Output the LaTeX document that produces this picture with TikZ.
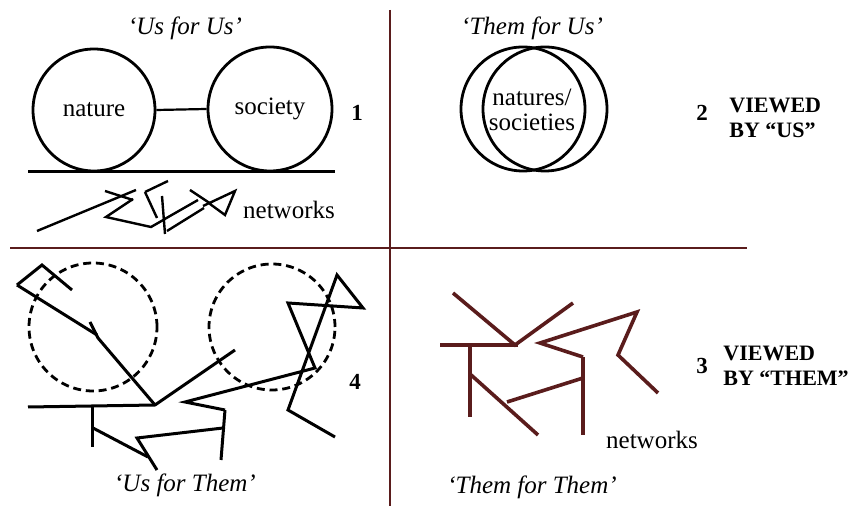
\documentclass[tikz,border=0pt]{standalone}
\usepackage{fontspec}
\setmainfont{Liberation Serif}
\definecolor{maroon}{HTML}{5A1C1C}
\tikzset{
  lbl/.style={font=\fontsize{12.5}{12.5}\selectfont, inner sep=0pt, align=center},
  ttl/.style={font=\fontsize{12.5}{14}\selectfont\itshape, inner sep=0pt},
  boldlbl/.style={font=\fontsize{11}{12.5}\selectfont\bfseries, inner sep=0pt, align=left},
  num/.style={font=\fontsize{11.5}{13}\selectfont\bfseries, inner sep=0pt},
  ring/.style={circle, draw, line width=1.4pt, inner sep=0pt},
  dring/.style={circle, draw, line width=1.4pt, dash pattern=on 4pt off 2.4pt, inner sep=0pt},
  netk/.style={line width=1.2pt, line join=miter},
  netb/.style={line width=1.5pt, line join=miter},
  netm/.style={line width=1.8pt, draw=maroon, line join=miter},
  divider/.style={draw=maroon, line width=1pt}
}
\begin{document}
\begin{tikzpicture}[x=0.5pt,y=-0.5pt]
\useasboundingbox[fill=white] (0,0) rectangle (855,506);

% dividers
\coordinate (vtop) at (390,10);
\coordinate (vbot) at (390,506);
\coordinate (hl) at (10,248);
\coordinate (hr) at (747,248);
\draw[divider] (vtop) -- (vbot);
\draw[divider] (hl) -- (hr);

% ---------- quadrant 1: Us for Us ----------
\node[ttl] (t1) at (185,28) {‘Us for Us’};
\node[ring, minimum size=61pt, lbl] (nature) at (94,110) {nature};
\node[ring, minimum size=62pt, lbl] (society) at (270,109) {society};
\draw[line width=1.1pt] (nature.east) -- (society.west);
\coordinate (gl) at (28,172);
\coordinate (gr) at (335,172);
\draw[line width=1.5pt] (gl) -- (gr);
\node[num] (n1) at (357,113) {1};
% small network
\draw[netk] (37,231) -- (136,190);
\draw[netk] (105,191) -- (133,200);
\draw[netk] (133,199) -- (106,217) -- (151,227) -- (165,219);
\draw[netk] (145,192) -- (168,181);
\draw[netk] (145,192) -- (157,218);
\draw[netk] (162,196) -- (165,234);
\draw[netk] (163,220) -- (198,200);
\draw[netk] (167,231) -- (204,208);
\draw[netk] (190,190) -- (211,204);
\draw[netk] (203,206) -- (235,191) -- (225,215) -- (210,204);
\node[lbl] (nw1) at (289,210) {networks};

% ---------- quadrant 2: Them for Us ----------
\node[ttl] (t2) at (532,28) {‘Them for Us’};
\node[ring, minimum size=62pt] (ca) at (523,109) {};
\node[ring, minimum size=62pt] (cb) at (545,109) {};
\node[lbl] (ns) at (532,110) {natures/\\societies};
\node[num] (n2) at (702,113) {2};
\node[boldlbl, anchor=west] (v2) at (729,118) {VIEWED\\BY “US”};

% ---------- quadrant 4: Us for Them ----------
\node[dring, minimum size=64pt] (d1) at (93,327) {};
\node[dring, minimum size=63pt] (d2) at (272,327) {};
\draw[netb] (17,285) -- (42,265) -- (72,290);
\draw[netb] (17,285) -- (97,335);
\draw[netb] (90,322) -- (98,338) -- (155,405);
\draw[netb] (28,407) -- (155,405) -- (235,350);
\draw[netb] (92,407) -- (92,447);
\draw[netb] (93,428) -- (148,457);
\draw[netb] (223,428) -- (137,438) -- (157,470);
\draw[netb] (225,410) -- (221,460);
\draw[netb] (225,410) -- (185,402) -- (315,368) -- (288,303) -- (363,308)
             -- (337,275) -- (288,410) -- (335,437);
\node[num] (n4) at (355,382) {4};
\node[ttl] (t4) at (185,485) {‘Us for Them’};

% ---------- quadrant 3: Them for Them ----------
\draw[netm] (453,293) -- (515,345) -- (573,303);
\draw[netm] (440,345) -- (518,345);
\draw[netm] (470,345) -- (470,417);
\draw[netm] (470,374) -- (538,435);
\draw[netm] (507,402) -- (583,378);
\draw[netm] (583,357) -- (583,435);
\draw[netm] (583,357) -- (540,343) -- (637,312) -- (618,355) -- (658,393);
\node[lbl] (nw3) at (652,440) {networks};
\node[num] (n3) at (702,366) {3};
\node[boldlbl, anchor=west] (v3) at (723,366) {VIEWED\\BY “THEM”};
\node[ttl] (t3) at (532,487) {‘Them for Them’};
\end{tikzpicture}
\end{document}
